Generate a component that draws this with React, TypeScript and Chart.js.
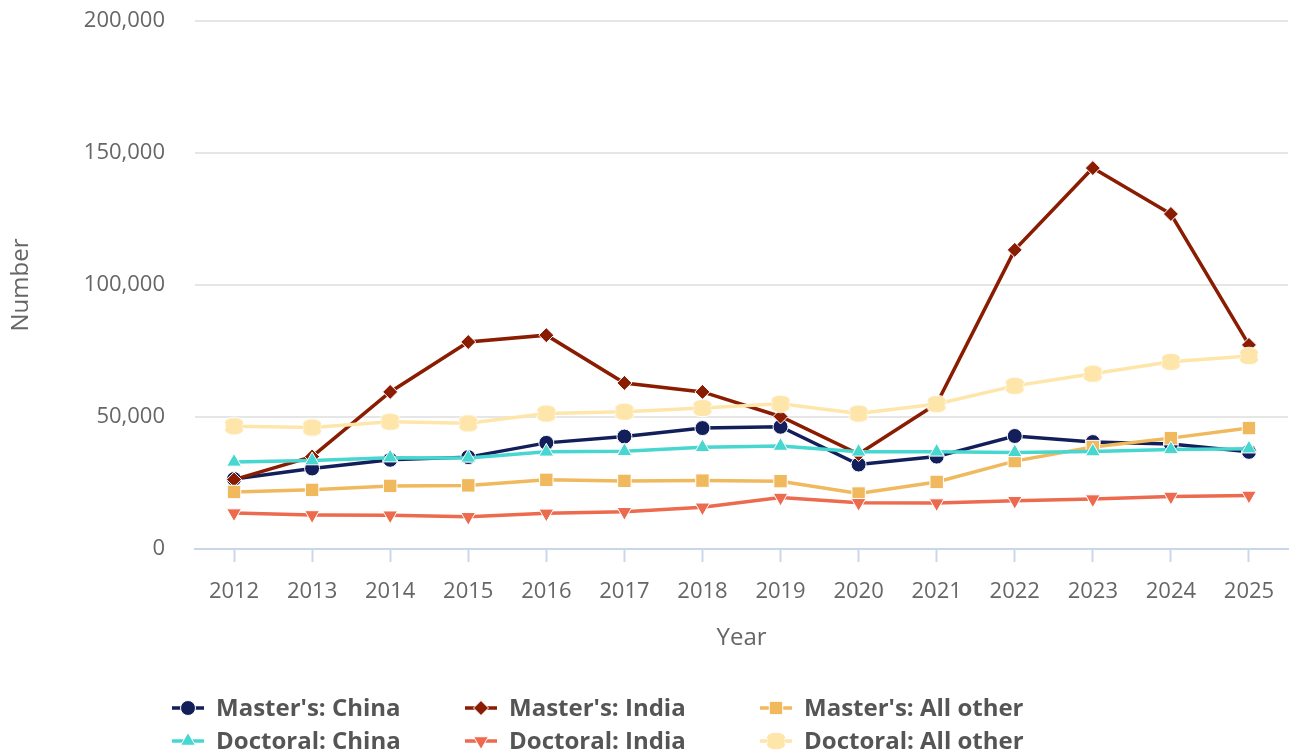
import React, { useEffect, useRef } from "react";
import { Chart, registerables } from "chart.js";
Chart.register(...registerables);

const years = ["2012", "2013", "2014", "2015", "2016", "2017", "2018", "2019", "2020", "2021", "2022", "2023", "2024", "2025"];
const mastersChina = [26500, 30500, 33800, 34800, 40200, 42600, 45800, 46300, 32000, 35000, 42800, 40500, 39800, 36800];
const mastersIndia = [26300, 35000, 59500, 78400, 81000, 62900, 59500, 50200, 36000, 55000, 113300, 144300, 126900, 77300];
const mastersOther = [21600, 22400, 23900, 24100, 26200, 25800, 25900, 25700, 21000, 25400, 33300, 38600, 42000, 45800];
const doctoralChina = [33000, 33500, 34600, 34500, 36800, 37000, 38500, 39000, 36800, 36800, 36600, 36900, 37700, 38000];
const doctoralIndia = [13600, 12900, 12800, 12200, 13500, 14100, 15800, 19500, 17500, 17400, 18300, 18900, 19900, 20300];
const doctoralOther = [46500, 46000, 48200, 47600, 51300, 52000, 53400, 55000, 51300, 54900, 61800, 66400, 70900, 73100];
const seriesNames = ["Master's: China", "Master's: India", "Master's: All other", "Doctoral: China", "Doctoral: India", "Doctoral: All other"];
const seriesColors = ["#121f5b", "#8a1c02", "#f0b95e", "#48d6d0", "#ec6a4e", "#fee6ab"];

const FONT = "'Open Sans', 'Noto Sans', sans-serif";

function makeBlob(color: string): HTMLCanvasElement {
  const c = document.createElement("canvas");
  c.width = 22;
  c.height = 20;
  const ctx = c.getContext("2d")!;
  ctx.fillStyle = color;
  ctx.strokeStyle = "#ffffff";
  ctx.lineWidth = 1;
  ctx.beginPath();
  ctx.ellipse(11, 6.5, 9.5, 5.3, 0, 0, Math.PI * 2);
  ctx.fill();
  ctx.stroke();
  ctx.beginPath();
  ctx.ellipse(11, 13.5, 9.5, 5.3, 0, 0, Math.PI * 2);
  ctx.fill();
  ctx.stroke();
  ctx.beginPath();
  ctx.ellipse(11, 10, 8.5, 5, 0, 0, Math.PI * 2);
  ctx.fill();
  return c;
}

function drawMarker(ctx: CanvasRenderingContext2D, style: string, x: number, y: number, r: number, rot: number) {
  ctx.save();
  ctx.translate(x, y);
  ctx.rotate((rot * Math.PI) / 180);
  ctx.beginPath();
  if (style === "circle") {
    ctx.arc(0, 0, r, 0, Math.PI * 2);
  } else if (style === "rect") {
    const s = Math.SQRT1_2 * r;
    ctx.rect(-s, -s, 2 * s, 2 * s);
  } else if (style === "rectRot") {
    ctx.moveTo(0, -r);
    ctx.lineTo(r, 0);
    ctx.lineTo(0, r);
    ctx.lineTo(-r, 0);
    ctx.closePath();
  } else if (style === "triangle") {
    for (let k = 0; k < 3; k++) {
      const a = (k * 2 * Math.PI) / 3;
      const px = Math.sin(a) * r;
      const py = -Math.cos(a) * r;
      if (k === 0) ctx.moveTo(px, py);
      else ctx.lineTo(px, py);
    }
    ctx.closePath();
  }
  ctx.fill();
  ctx.stroke();
  ctx.restore();
}

export default function App() {
  const ref = useRef<HTMLCanvasElement>(null);
  useEffect(() => {
    document.body.style.margin = "0";
    const blob = makeBlob(seriesColors[5]);
    const values = [mastersChina, mastersIndia, mastersOther, doctoralChina, doctoralIndia, doctoralOther];
    const styles: any[] = ["circle", "rectRot", "rect", "triangle", "triangle", blob];
    const radii = [7.5, 7.5, 9.5, 8.5, 8.5, 9];
    const rotations = [0, 0, 0, 0, 180, 0];
    const datasets = values.map((d, i) => ({
      label: seriesNames[i],
      data: d,
      borderColor: seriesColors[i],
      backgroundColor: seriesColors[i],
      borderWidth: 3.5,
      pointStyle: styles[i],
      pointRadius: radii[i],
      pointHoverRadius: radii[i],
      pointRotation: rotations[i],
      pointBorderColor: "#ffffff",
      pointBorderWidth: 1,
      pointBackgroundColor: seriesColors[i],
      tension: 0,
      order: 6 - i,
      clip: false as any,
    }));

    const legendPlugin = {
      id: "customLegend",
      afterDraw(chart: any) {
        const ctx = chart.ctx;
        const cols = [172, 465, 760];
        const rows = [708, 741];
        ctx.save();
        chart.data.datasets.forEach((ds: any, i: number) => {
          const x = cols[i % 3];
          const y = rows[Math.floor(i / 3)];
          ctx.strokeStyle = ds.borderColor;
          ctx.lineWidth = 3.5;
          ctx.beginPath();
          ctx.moveTo(x, y);
          ctx.lineTo(x + 32, y);
          ctx.stroke();
          const st = ds.pointStyle;
          if (st instanceof HTMLCanvasElement) {
            ctx.drawImage(st, x + 16 - st.width / 2, y - st.height / 2);
          } else {
            ctx.fillStyle = ds.pointBackgroundColor;
            ctx.strokeStyle = "#ffffff";
            ctx.lineWidth = 1;
            drawMarker(ctx, st, x + 16, y, ds.pointRadius, ds.pointRotation);
          }
          ctx.fillStyle = "#555555";
          ctx.font = `bold 24px ${FONT}`;
          ctx.textBaseline = "middle";
          ctx.textAlign = "left";
          ctx.fillText(ds.label, x + 44, y + 1);
        });
        ctx.restore();
      },
    };

    const chart = new Chart(ref.current!, {
      type: "line",
      data: { labels: years, datasets },
      plugins: [legendPlugin],
      options: {
        animation: false,
        responsive: false,
        maintainAspectRatio: false,
        layout: { autoPadding: false, padding: { top: 21, right: 1, bottom: 121, left: 0 } },
        plugins: {
          legend: { display: false },
          tooltip: { enabled: false },
        },
        scales: {
          x: {
            offset: true,
            grid: {
              offset: false,
              drawOnChartArea: false,
              drawTicks: true,
              tickLength: 13,
              tickColor: "#ccd6eb",
              tickWidth: 2,
            },
            border: { display: true, color: "#ccd6eb", width: 2 },
            ticks: { color: "#666666", font: { family: FONT, size: 22 }, padding: 17, maxRotation: 0 },
            title: { display: true, text: "Year", color: "#666666", font: { family: FONT, size: 24 }, padding: { top: 10, bottom: 6 } },
            afterFit(scale: any) {
              scale.height = 110;
              scale.paddingLeft = 0;
              scale.paddingRight = 0;
            },
          },
          y: {
            min: 0,
            max: 200000,
            ticks: {
              stepSize: 50000,
              color: "#666666",
              font: { family: FONT, size: 22 },
              padding: 30,
              callback: (v: any) => Number(v).toLocaleString("en-US"),
            },
            grid: { color: "#e6e6e6", lineWidth: 2, drawTicks: false },
            border: { display: false },
            title: { display: true, text: "Number", color: "#666666", font: { family: FONT, size: 24 }, padding: { top: 7, bottom: 0 } },
            afterFit(scale: any) {
              scale.width = 195;
              scale.paddingTop = 0;
              scale.paddingBottom = 0;
            },
          },
        },
      },
    });
    return () => chart.destroy();
  }, []);
  return (
    <div style={{ position: "absolute", left: 0, top: 0, width: 1289, height: 780 }}>
      <canvas ref={ref} width={1289} height={780} style={{ width: 1289, height: 780, display: "block" }} />
    </div>
  );
}
